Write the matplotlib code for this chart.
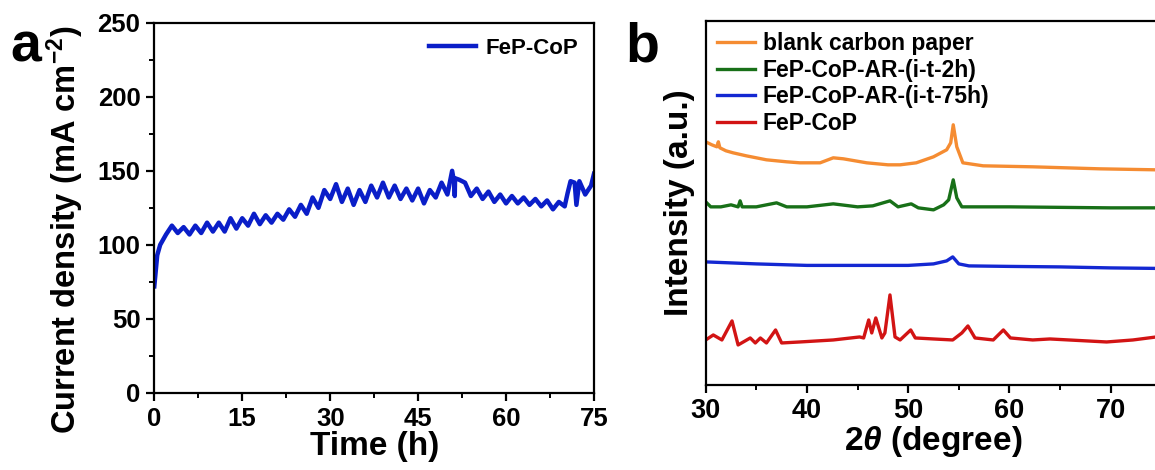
import numpy as np
import matplotlib.pyplot as plt
from matplotlib.ticker import MultipleLocator

plt.rcParams['font.family'] = ['Liberation Sans', 'DejaVu Sans']
plt.rcParams['font.weight'] = 'bold'
plt.rcParams['mathtext.fontset'] = 'custom'
plt.rcParams['mathtext.it'] = 'Liberation Sans:italic'
plt.rcParams['mathtext.bf'] = 'Liberation Sans:bold'

# panel a: chronoamperometry (time in h, current density in mA cm-2)
time_h = [0, 0.5, 1, 2, 3, 4, 5, 6, 7, 8, 9, 10, 11, 12, 13, 14, 15, 16, 17, 18,
          19, 20, 21, 22, 23, 24, 25, 26, 27, 28, 29, 30, 31, 32, 33, 34, 35, 36,
          37, 38, 39, 40, 41, 42, 43, 44, 45, 46, 47, 48, 49, 50, 50.8, 51.2, 51.25,
          51.3, 52, 53, 54, 55, 56, 57, 58, 59, 60, 61, 62, 63, 64, 65, 66, 67, 68,
          69, 70, 70.5, 71, 71.7, 72, 72.5, 73.5, 74.5, 75]
current = [72, 93, 100, 107, 113, 108, 112, 107, 113, 108, 115, 109, 115, 109, 118,
           111, 118, 113, 121, 114, 120, 115, 121, 117, 124, 119, 127, 121, 132, 125,
           137, 131, 141, 129, 138, 127, 137, 129, 140, 132, 142, 132, 140, 131, 138,
           130, 138, 128, 137, 132, 142, 134, 150, 141, 133, 145, 144, 142, 133, 138,
           131, 136, 129, 134, 128, 133, 128, 132, 127, 131, 126, 130, 124, 129, 126,
           135, 143, 142, 127, 143, 134, 140, 148]

# panel b: XRD patterns (2theta in degree, intensity in a.u., already offset)
tt_blank = [30.0, 30.6, 31.1, 31.25, 31.4, 32.0, 32.7, 34.0, 36.0, 38.0, 39.3, 41.3,
            42.6, 43.6, 45.9, 48.0, 49.2, 50.8, 52.5, 53.8, 54.2, 54.45, 54.8, 55.4,
            57.4, 62.3, 68.9, 74.5]
int_blank = [243, 240, 238, 243, 237, 234, 232, 229, 225, 223, 222, 222, 227, 226,
             222, 220, 220, 222, 228, 235, 242, 260, 238, 222, 219, 218, 216, 215]

tt_2h = [30.0, 30.5, 31.5, 32.5, 33.2, 33.4, 33.6, 35.0, 37.0, 38.0, 40.0, 42.6, 45.0,
         46.5, 48.2, 49.0, 50.3, 51.0, 52.5, 53.5, 54.0, 54.45, 54.8, 55.3, 60.0,
         65.0, 70.0, 74.5]
int_2h = [183, 178, 178, 180, 178, 184, 178, 178, 182, 178, 178, 181, 178, 179, 184,
          178, 181, 177, 175, 180, 185, 205, 187, 178, 178, 177.5, 177, 177]

tt_75h = [30.0, 35.0, 40.0, 45.0, 50.0, 52.5, 53.8, 54.4, 55.0, 56.0, 60.0, 65.0,
          70.0, 74.5]
int_75h = [123, 121, 119.5, 119.5, 119.5, 121, 124, 128, 121, 119, 118.5, 118, 117,
           116.5]

tt_fresh = [30.0, 30.75, 31.6, 32.6, 33.2, 34.4, 34.9, 35.4, 36.0, 36.9, 37.5, 39.3,
            42.6, 45.2, 45.6, 46.1, 46.4, 46.8, 47.4, 47.7, 48.2, 48.7, 49.2, 50.25,
            50.7, 52.5, 54.4, 55.3, 55.9, 56.6, 58.4, 59.4, 60.1, 62.3, 64.0, 69.6,
            72.2, 74.5]
int_fresh = [45, 50, 45, 64, 40, 47, 42, 47, 42, 55, 42, 43, 45, 48, 47, 65, 52, 67,
             47, 52, 90, 48, 45, 55, 47, 46, 45, 52, 59, 47, 45, 55, 47, 45, 46, 43,
             45, 48]

xrd_names = ['blank carbon paper', 'FeP-CoP-AR-(i-t-2h)', 'FeP-CoP-AR-(i-t-75h)', 'FeP-CoP']
xrd_colors = ['#F58C32', '#187018', '#1428D2', '#D21414']

W, H = 1155, 470
fig = plt.figure(figsize=(W / 100, H / 100), dpi=100)


def px_axes(left, top, right, bottom):
    return fig.add_axes([left / W, 1 - bottom / H, (right - left) / W, (bottom - top) / H])


def style_axes(ax, size):
    for s in ax.spines.values():
        s.set_linewidth(1.6)
    ax.tick_params(which='major', direction='out', length=6, width=1.6, labelsize=size)
    ax.tick_params(which='minor', direction='out', length=3.5, width=1.4)


# ---- panel a
ax1 = px_axes(154.3, 22.7, 594, 393)
ax1.plot(time_h, current, color='#0A1EC8', lw=3.2, label='FeP-CoP')
ax1.set_xlim(0, 75)
ax1.set_ylim(0, 250)
ax1.xaxis.set_major_locator(MultipleLocator(15))
ax1.xaxis.set_minor_locator(MultipleLocator(7.5))
ax1.yaxis.set_major_locator(MultipleLocator(50))
ax1.yaxis.set_minor_locator(MultipleLocator(25))
style_axes(ax1, 18.5)
ax1.tick_params(axis='both', pad=4)
ax1.set_xlabel('Time (h)', fontsize=24, fontweight='bold', labelpad=0)
ax1.set_ylabel('Current density (mA cm$^{\\mathbf{-2}}$)', fontsize=23.5, fontweight='bold')
ax1.yaxis.set_label_coords(-0.155, 0.44)
ax1.legend(loc='upper right', frameon=False, handlelength=2.1,
           borderaxespad=0.3, handletextpad=0.45, prop={'weight': 'bold', 'size': 16})
fig.text(10 / W, 1 - 48 / H, 'a', fontsize=40, fontweight='bold', va='center')

# ---- panel b
ax2 = px_axes(705.7, 20.7, 1161.3, 385)
xrd_x = [tt_blank, tt_2h, tt_75h, tt_fresh]
xrd_y = [int_blank, int_2h, int_75h, int_fresh]
for xs, ys, name, c in zip(xrd_x, xrd_y, xrd_names, xrd_colors):
    ax2.plot(xs, ys, color=c, lw=2.4, label=name)
ax2.set_xlim(30, 75)
ax2.set_ylim(0, 364)
ax2.xaxis.set_major_locator(MultipleLocator(10))
ax2.xaxis.set_minor_locator(MultipleLocator(5))
ax2.set_yticks([])
style_axes(ax2, 19.5)
ax2.set_xlabel('2$\\mathit{\\theta}$ (degree)', fontsize=24, fontweight='bold', labelpad=0)
ax2.set_ylabel('Intensity (a.u.)', fontsize=24, fontweight='bold', labelpad=8)
ax2.legend(loc='upper left', frameon=False, handlelength=1.65, borderaxespad=0.3,
           borderpad=0.2, handletextpad=0.35, labelspacing=0.16,
           prop={'weight': 'bold', 'size': 16.5})
fig.text(625 / W, 1 - 48 / H, 'b', fontsize=40, fontweight='bold', va='center')

fig.savefig('out.png', dpi=100)
